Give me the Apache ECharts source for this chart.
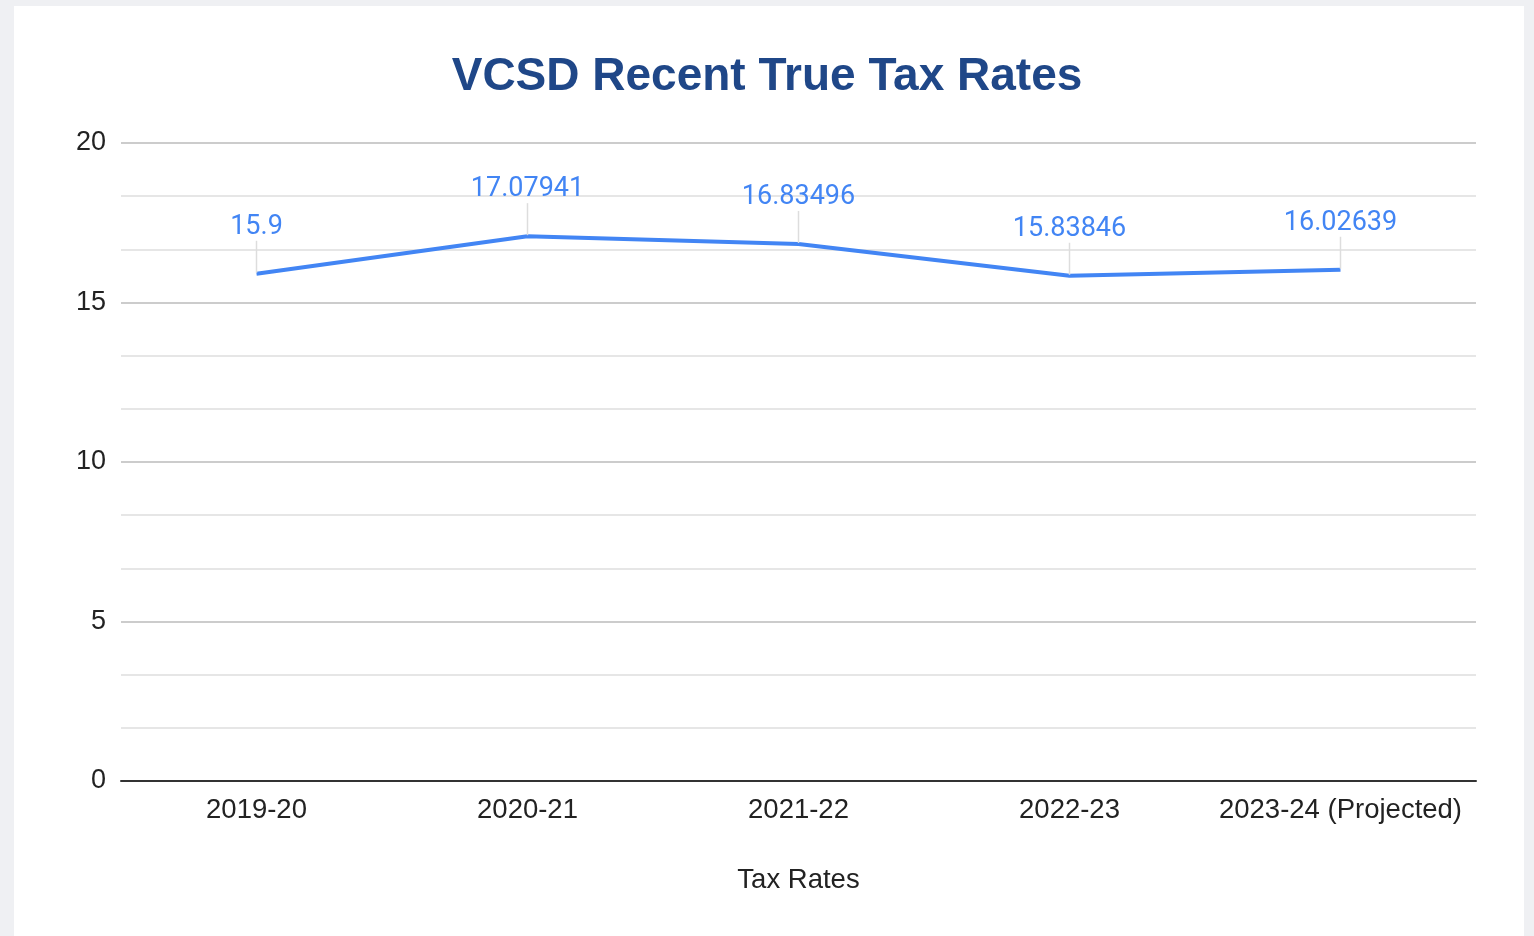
<!DOCTYPE html>
<html>
<head>
<meta charset="utf-8">
<script src="https://cdn.jsdelivr.net/npm/echarts@6/dist/echarts.min.js"></script>
<style>
  html, body { margin: 0; padding: 0; background: #eff0f3; }
  #card { position: absolute; left: 14px; top: 6px; width: 1510px; height: 930px; background: #fff; }
  #main { position: absolute; left: 0; top: 0; width: 1534px; height: 936px; }
</style>
</head>
<body>
<div id="card"></div>
<div id="main"></div>
<script>
// 年度与税率
var categories = ["2019-20", "2020-21", "2021-22", "2022-23", "2023-24 (Projected)"];
var taxRates = [15.9, 17.07941, 16.83496, 15.83846, 16.02639];
var yTicks = [0, 5, 10, 15, 20];

var myChart = echarts.init(document.getElementById("main"));

var axisFont = "Liberation Sans, Arial, sans-serif";

myChart.setOption({
  backgroundColor: "transparent",
  title: {
    text: "VCSD Recent True Tax Rates",
    left: "center",
    top: 49,
    textStyle: {
      fontFamily: axisFont,
      fontSize: 46,
      fontWeight: "bold",
      color: "#1f4788"
    }
  },
  grid: { left: 121, right: 58, top: 143, bottom: 155 },
  xAxis: {
    type: "category",
    data: categories,
    name: "Tax Rates",
    nameLocation: "middle",
    nameGap: 85,
    nameTextStyle: { fontFamily: axisFont, fontSize: 27.5, color: "#222" },
    axisLine: { lineStyle: { color: "#333", width: 2 } },
    axisTick: { show: false },
    axisLabel: { interval: 0, fontFamily: axisFont, fontSize: 27.5, color: "#222", margin: 15 }
  },
  yAxis: {
    type: "value",
    min: yTicks[0],
    max: yTicks[yTicks.length - 1],
    interval: 5,
    axisLine: { show: false },
    axisTick: { show: false },
    axisLabel: { fontFamily: axisFont, fontSize: 27, color: "#222", margin: 15, padding: [4, 0, 0, 0] },
    splitLine: { lineStyle: { color: "#cccccc", width: 2 } },
    minorTick: { show: false, splitNumber: 3 },
    minorSplitLine: { show: true, lineStyle: { color: "#e6e6e6", width: 2 } }
  },
  series: [
    {
      name: "Tax Rates",
      type: "line",
      data: taxRates,
      symbol: "circle",
      symbolSize: 2,
      showAllSymbol: true,
      lineStyle: { color: "#4285f4", width: 4 },
      itemStyle: { color: "rgba(66,133,244,0)" },
      label: {
        show: true,
        position: "top",
        distance: 4,
        fontFamily: "Roboto, sans-serif",
        fontSize: 27,
        color: "#4285f4",
        formatter: function (p) { return String(p.value); }
      },
      labelLayout: { dy: -28 },
      labelLine: { show: true, length2: 0, lineStyle: { color: "#dddddd", width: 1.5 } }
    }
  ]
});
</script>
</body>
</html>
